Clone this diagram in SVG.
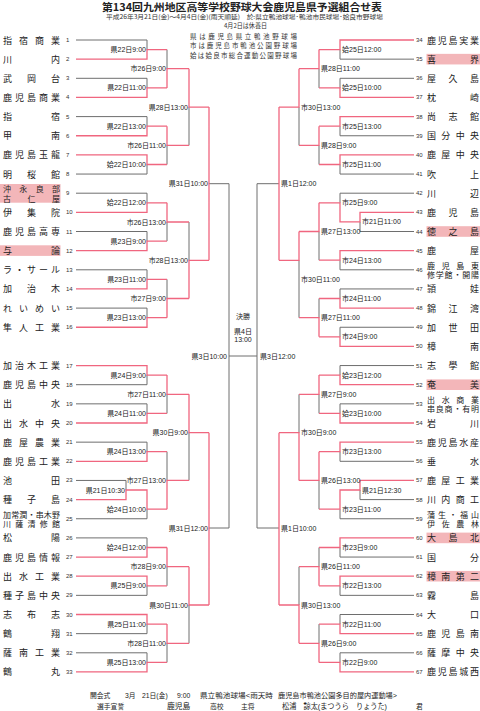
<svg xmlns="http://www.w3.org/2000/svg" width="480" height="711" viewBox="0 0 480 711">
<style>
text{font-family:"Liberation Sans","Noto Sans CJK JP",sans-serif;dominant-baseline:central;fill:#222}
.n{font-family:"Noto Sans CJK JP",sans-serif;font-size:9px}
.n2{font-family:"Noto Sans CJK JP",sans-serif;font-size:8px}
.num{font-size:6px;fill:#333}
.lb{font-size:7px;fill:#333}
.e{text-anchor:end}
.m{text-anchor:middle}
.hd{font-family:"Noto Sans CJK JP",sans-serif;font-size:6.5px;fill:#333}
.g{stroke:#6e6e6e;fill:none;stroke-width:1}
.r{stroke:#f0667f;fill:none;stroke-width:1.3}
.pk{fill:#f3b6b9}
</style>
<rect width="480" height="711" fill="#fff"/>
<g id="header">
<text x="242" y="10.6" class="m" style="font-family:'Noto Sans CJK JP',sans-serif;font-size:10.3px;font-weight:bold;dominant-baseline:alphabetic" textLength="280" lengthAdjust="spacingAndGlyphs">第134回九州地区高等学校野球大会鹿児島県予選組合せ表</text>
<text x="244.5" y="16.6" class="hd m" style="font-size:6.2px" textLength="277" lengthAdjust="spacingAndGlyphs">平成26年3月21日(金)～4月4日(金)(雨天順延)　於:県立鴨池球場･鴨池市民球場･姶良市野球場</text>
<text x="245.5" y="25.2" class="hd m" textLength="43" lengthAdjust="spacingAndGlyphs">4月2日は休養日</text>
<text x="190" y="35.5" class="hd" textLength="107" lengthAdjust="spacing">県は鹿児島県立鴨池野球場</text>
<text x="190" y="45" class="hd" textLength="107" lengthAdjust="spacing">市は鹿児島市鴨池公園野球場</text>
<text x="190" y="54.7" class="hd" textLength="107" lengthAdjust="spacing">姶は姶良市総合運動公園野球場</text>
</g>
<g id="connectors">
<g class="g">
<path d="M76 40H147V49.6M76 78.3H147V87.9M76 116.6H147V126.2M76 174.05H147V164.5M76 193.2H147V202.8M76 231.5H147V241.1M76 269.8H147V279.4M76 308.1H147V317.7"/>
<path d="M76 384.7H147V375.1M76 403.85H147V413.4M76 442.15H147V451.7M76 480.45H126V490M76 518.75H147V509.2M76 537.9H147V547.5M76 595.35H147V585.8M76 633.65H147V624.1M76 652.8H147V662.4"/>
<path d="M167 49.6V68.7M167 164.5V145.4M167 241.1V222M167 279.4V298.5M189 145.4V107.1M189 222V260.3M209 183.7H229"/>
<path d="M167 413.4V394.3M167 451.7V480.4M167 585.8V566.7M167 662.4V643.3M189 480.4V432.7M189 643.3V605M209 528H229"/>
<path d="M229 183.7V528M229 356H257M257 183.7V528"/>
<path d="M414 59.15H340V49.6M414 78.3H340V87.9M414 135.75H340V126.2M414 174.05H340V164.5M414 193.2H340V202.8M414 231.5H360V221.9M414 269.8H340V260.2M414 288.95H340V298.5M414 327.25H340V336.8"/>
<path d="M414 365.55H340V375.1M414 403.85H340V413.4M414 461.3H340V451.7M414 499.6H360V490M414 518.75H340V509.2M414 557.05H340V547.5M414 595.35H340V585.8M414 614.5H340V624.1M414 652.8H340V662.4"/>
<path d="M319 87.9V68.7M319 164.5V145.4M319 260.2V231.5M319 298.5V317.7M319 413.4V394.3M319 509.2V480.4M319 547.5V566.7M319 624.1V643.3"/>
<path d="M299 145.4V107.1M299 317.7V260.3M299 394.3V432.7M299 566.7V605M279 183.7H257M279 528H257"/>
</g>
<g class="r">
<path d="M76 59.15H147V49.6H167M76 97.45H147V87.9H167M76 135.75H147V126.2H167M76 154.9H147V164.5H167M76 212.35H147V202.8H167M76 250.65H147V241.1H167M76 288.95H147V279.4H167M76 327.25H147V317.7H167"/>
<path d="M76 365.55H147V375.1H167M76 423H147V413.4H167M76 461.3H147V451.7H167M76 499.6H126V490H147V509.2H167M76 557.05H147V547.5H167M76 576.2H147V585.8H167M76 614.5H147V624.1H167M76 671.95H147V662.4H167"/>
<path d="M167 87.9V68.7H189M167 126.2V145.4H189M167 202.8V222H189M167 317.7V298.5H189M189 68.7V107.1H209M189 298.5V260.3H209M209 107.1V260.3"/>
<path d="M167 375.1V394.3H189M167 509.2V480.4H189M167 547.5V566.7H189M167 624.1V643.3H189M189 394.3V432.7H209M189 566.7V605H209M209 432.7V605"/>
<path d="M414 40H340V49.6H319M414 97.45H340V87.9H319M414 116.6H340V126.2H319M414 154.9H340V164.5H319M414 212.35H360V221.9H340V202.8H319M414 250.65H340V260.2H319M414 308.1H340V298.5H319M414 346.4H340V336.8H319"/>
<path d="M414 384.7H340V375.1H319M414 423H340V413.4H319M414 442.15H340V451.7H319M414 480.45H360V490H340V509.2H319M414 537.9H340V547.5H319M414 576.2H340V585.8H319M414 633.65H340V624.1H319M414 671.95H340V662.4H319"/>
<path d="M319 49.6V68.7H299M319 126.2V145.4H299M319 202.8V231.5H299M319 336.8V317.7H299M319 375.1V394.3H299M319 451.7V480.4H299M319 585.8V566.7H299M319 662.4V643.3H299"/>
<path d="M299 68.7V107.1H279M299 231.5V260.3H279M299 480.4V432.7H279M299 643.3V605H279M279 107.1V260.3M279 432.7V605"/>
</g>
</g>
<g id="labels">
<g class="lb e">
<text x="146" y="49.6">県22日9:00</text>
<text x="146" y="87.9">県22日11:00</text>
<text x="146" y="126.2">県22日13:00</text>
<text x="146" y="164.5">姶22日10:00</text>
<text x="146" y="202.8">姶22日12:00</text>
<text x="146" y="241.1">県23日9:00</text>
<text x="146" y="279.4">県23日11:00</text>
<text x="146" y="317.7">県23日13:00</text>
<text x="146" y="375.1">県24日9:00</text>
<text x="146" y="413.4">県24日11:00</text>
<text x="146" y="451.7">県24日13:00</text>
<text x="125" y="490">県21日10:30</text>
<text x="146" y="509.2">姶24日10:00</text>
<text x="146" y="547.5">姶24日12:00</text>
<text x="146" y="585.8">県25日9:00</text>
<text x="146" y="624.1">県25日11:00</text>
<text x="146" y="662.4">県25日13:00</text>
<text x="166" y="68.7">市26日9:00</text>
<text x="166" y="145.4">市26日11:00</text>
<text x="166" y="222">市26日13:00</text>
<text x="166" y="298.5">市27日9:00</text>
<text x="166" y="394.3">市27日11:00</text>
<text x="166" y="480.4">市27日13:00</text>
<text x="166" y="566.7">市28日9:00</text>
<text x="166" y="643.3">市28日11:00</text>
<text x="188" y="107.1">県28日13:00</text>
<text x="188" y="260.3">市28日13:00</text>
<text x="188" y="432.7">県30日9:00</text>
<text x="188" y="605">県30日11:00</text>
<text x="208" y="183.7">県31日10:00</text>
<text x="208" y="528">県31日12:00</text>
<text x="227" y="356">県3日10:00</text>
</g>
<g class="lb">
<text x="342" y="49.6">姶25日12:00</text>
<text x="342" y="87.9">姶25日10:00</text>
<text x="342" y="126.2">市25日13:00</text>
<text x="342" y="164.5">市25日11:00</text>
<text x="342" y="202.8">市25日9:00</text>
<text x="362" y="221.9">市21日11:00</text>
<text x="342" y="260.2">市24日13:00</text>
<text x="342" y="298.5">市24日11:00</text>
<text x="342" y="336.8">市24日9:00</text>
<text x="342" y="375.1">姶23日12:00</text>
<text x="342" y="413.4">姶23日10:00</text>
<text x="342" y="451.7">市23日13:00</text>
<text x="362" y="490">県21日12:30</text>
<text x="342" y="509.2">市23日11:00</text>
<text x="342" y="547.5">市23日9:00</text>
<text x="342" y="585.8">市22日13:00</text>
<text x="342" y="624.1">市22日11:00</text>
<text x="342" y="662.4">市22日9:00</text>
<text x="321" y="68.7">県28日11:00</text>
<text x="321" y="145.4">県28日9:00</text>
<text x="321" y="231.5">県27日13:00</text>
<text x="321" y="317.7">県27日11:00</text>
<text x="321" y="394.3">県27日9:00</text>
<text x="321" y="480.4">県26日13:00</text>
<text x="321" y="566.7">県26日11:00</text>
<text x="321" y="643.3">県26日9:00</text>
<text x="301" y="107.1">市30日13:00</text>
<text x="301" y="279">市30日11:00</text>
<text x="301" y="432.7">市30日9:00</text>
<text x="301" y="605">県30日13:00</text>
<text x="281" y="183.7">県1日12:00</text>
<text x="281" y="528">県1日10:00</text>
<text x="260" y="356">県3日12:00</text>
</g>
</g>
<g id="final" class="lb m">
<text x="243" y="316">決勝</text>
<text x="243" y="331.7">県4日</text>
<text x="243" y="339.5">13:00</text>
</g>
<g id="teams-left">
<rect class="pk" x="0" y="184" width="60.5" height="18.7"/>
<rect class="pk" x="0" y="245.3" width="60.5" height="10.6"/>
<g id="t1"><text class="n" x="3" y="40" textLength="57" lengthAdjust="spacing">指宿商業</text><text class="num" x="66" y="40">1</text></g>
<g id="t2"><text class="n" x="3" y="59.15" textLength="57" lengthAdjust="spacing">川内</text><text class="num" x="66" y="59.15">2</text></g>
<g id="t3"><text class="n" x="3" y="78.3" textLength="57" lengthAdjust="spacing">武岡台</text><text class="num" x="66" y="78.3">3</text></g>
<g id="t4"><text class="n" x="3" y="97.45" textLength="57" lengthAdjust="spacing">鹿児島商業</text><text class="num" x="66" y="97.45">4</text></g>
<g id="t5"><text class="n" x="3" y="116.6" textLength="57" lengthAdjust="spacing">指宿</text><text class="num" x="66" y="116.6">5</text></g>
<g id="t6"><text class="n" x="3" y="135.75" textLength="57" lengthAdjust="spacing">甲南</text><text class="num" x="66" y="135.75">6</text></g>
<g id="t7"><text class="n" x="3" y="154.9" textLength="57" lengthAdjust="spacing">鹿児島玉龍</text><text class="num" x="66" y="154.9">7</text></g>
<g id="t8"><text class="n" x="3" y="174.05" textLength="57" lengthAdjust="spacing">明桜館</text><text class="num" x="66" y="174.05">8</text></g>
<g id="t9"><text class="n2" x="3" y="188.5" textLength="57" lengthAdjust="spacing">沖永良部</text><text class="n2" x="3" y="198.2" textLength="57" lengthAdjust="spacing">古仁屋</text><text class="num" x="66" y="193.2">9</text></g>
<g id="t10"><text class="n" x="3" y="212.35" textLength="57" lengthAdjust="spacing">伊集院</text><text class="num" x="66" y="212.35">10</text></g>
<g id="t11"><text class="n" x="3" y="231.5" textLength="57" lengthAdjust="spacing">鹿児島高専</text><text class="num" x="66" y="231.5">11</text></g>
<g id="t12"><text class="n" x="3" y="250.65" textLength="57" lengthAdjust="spacing">与論</text><text class="num" x="66" y="250.65">12</text></g>
<g id="t13"><text class="n" x="3" y="269.8" textLength="57" lengthAdjust="spacing">ラ・サール</text><text class="num" x="66" y="269.8">13</text></g>
<g id="t14"><text class="n" x="3" y="288.95" textLength="57" lengthAdjust="spacing">加治木</text><text class="num" x="66" y="288.95">14</text></g>
<g id="t15"><text class="n" x="3" y="308.1" textLength="57" lengthAdjust="spacing">れいめい</text><text class="num" x="66" y="308.1">15</text></g>
<g id="t16"><text class="n" x="3" y="327.25" textLength="57" lengthAdjust="spacing">隼人工業</text><text class="num" x="66" y="327.25">16</text></g>
<g id="t17"><text class="n" x="3" y="365.55" textLength="57" lengthAdjust="spacing">加治木工業</text><text class="num" x="66" y="365.55">17</text></g>
<g id="t18"><text class="n" x="3" y="384.7" textLength="57" lengthAdjust="spacing">鹿児島中央</text><text class="num" x="66" y="384.7">18</text></g>
<g id="t19"><text class="n" x="3" y="403.85" textLength="57" lengthAdjust="spacing">出水</text><text class="num" x="66" y="403.85">19</text></g>
<g id="t20"><text class="n" x="3" y="423" textLength="57" lengthAdjust="spacing">出水中央</text><text class="num" x="66" y="423">20</text></g>
<g id="t21"><text class="n" x="3" y="442.15" textLength="57" lengthAdjust="spacing">鹿屋農業</text><text class="num" x="66" y="442.15">21</text></g>
<g id="t22"><text class="n" x="3" y="461.3" textLength="57" lengthAdjust="spacing">鹿児島工業</text><text class="num" x="66" y="461.3">22</text></g>
<g id="t23"><text class="n" x="3" y="480.45" textLength="57" lengthAdjust="spacing">池田</text><text class="num" x="66" y="480.45">23</text></g>
<g id="t24"><text class="n" x="3" y="499.6" textLength="57" lengthAdjust="spacing">種子島</text><text class="num" x="66" y="499.6">24</text></g>
<g id="t25"><text class="n2" x="3" y="514" textLength="57" lengthAdjust="spacing">加常潤・串木野</text><text class="n2" x="3" y="523.6" textLength="57" lengthAdjust="spacing">川薩清修館</text><text class="num" x="66" y="518.75">25</text></g>
<g id="t26"><text class="n" x="3" y="537.9" textLength="57" lengthAdjust="spacing">松陽</text><text class="num" x="66" y="537.9">26</text></g>
<g id="t27"><text class="n" x="3" y="557.05" textLength="57" lengthAdjust="spacing">鹿児島情報</text><text class="num" x="66" y="557.05">27</text></g>
<g id="t28"><text class="n" x="3" y="576.2" textLength="57" lengthAdjust="spacing">出水工業</text><text class="num" x="66" y="576.2">28</text></g>
<g id="t29"><text class="n" x="3" y="595.35" textLength="57" lengthAdjust="spacing">種子島中央</text><text class="num" x="66" y="595.35">29</text></g>
<g id="t30"><text class="n" x="3" y="614.5" textLength="57" lengthAdjust="spacing">志布志</text><text class="num" x="66" y="614.5">30</text></g>
<g id="t31"><text class="n" x="3" y="633.65" textLength="57" lengthAdjust="spacing">鶴翔</text><text class="num" x="66" y="633.65">31</text></g>
<g id="t32"><text class="n" x="3" y="652.8" textLength="57" lengthAdjust="spacing">薩南工業</text><text class="num" x="66" y="652.8">32</text></g>
<g id="t33"><text class="n" x="3" y="671.95" textLength="57" lengthAdjust="spacing">鶴丸</text><text class="num" x="66" y="671.95">33</text></g>
</g>
<g id="teams-right">
<rect class="pk" x="426.5" y="53.85" width="53.5" height="10.6"/>
<rect class="pk" x="426.5" y="226.2" width="53.5" height="10.6"/>
<rect class="pk" x="426.5" y="379.4" width="53.5" height="10.6"/>
<rect class="pk" x="426.5" y="532.6" width="53.5" height="10.6"/>
<rect class="pk" x="426.5" y="570.9" width="53.5" height="10.6"/>
<g id="t34"><text class="num" x="416" y="40">34</text><text class="n" x="427" y="40" textLength="52" lengthAdjust="spacing">鹿児島実業</text></g>
<g id="t35"><text class="num" x="416" y="59.15">35</text><text class="n" x="427" y="59.15" textLength="52" lengthAdjust="spacing">喜界</text></g>
<g id="t36"><text class="num" x="416" y="78.3">36</text><text class="n" x="427" y="78.3" textLength="52" lengthAdjust="spacing">屋久島</text></g>
<g id="t37"><text class="num" x="416" y="97.45">37</text><text class="n" x="427" y="97.45" textLength="52" lengthAdjust="spacing">枕崎</text></g>
<g id="t38"><text class="num" x="416" y="116.6">38</text><text class="n" x="427" y="116.6" textLength="52" lengthAdjust="spacing">尚志館</text></g>
<g id="t39"><text class="num" x="416" y="135.75">39</text><text class="n" x="427" y="135.75" textLength="52" lengthAdjust="spacing">国分中央</text></g>
<g id="t40"><text class="num" x="416" y="154.9">40</text><text class="n" x="427" y="154.9" textLength="52" lengthAdjust="spacing">鹿屋中央</text></g>
<g id="t41"><text class="num" x="416" y="174.05">41</text><text class="n" x="427" y="174.05" textLength="52" lengthAdjust="spacing">吹上</text></g>
<g id="t42"><text class="num" x="416" y="193.2">42</text><text class="n" x="427" y="193.2" textLength="52" lengthAdjust="spacing">川辺</text></g>
<g id="t43"><text class="num" x="416" y="212.35">43</text><text class="n" x="427" y="212.35" textLength="52" lengthAdjust="spacing">鹿児島</text></g>
<g id="t44"><text class="num" x="416" y="231.5">44</text><text class="n" x="427" y="231.5" textLength="52" lengthAdjust="spacing">徳之島</text></g>
<g id="t45"><text class="num" x="416" y="250.65">45</text><text class="n" x="427" y="250.65" textLength="52" lengthAdjust="spacing">鹿屋</text></g>
<g id="t46"><text class="num" x="416" y="269.8">46</text><text class="n2" x="427" y="265.1" textLength="52" lengthAdjust="spacing">鹿児島東</text><text class="n2" x="427" y="274.5" textLength="52" lengthAdjust="spacing">修学館・開陽</text></g>
<g id="t47"><text class="num" x="416" y="288.95">47</text><text class="n" x="427" y="288.95" textLength="52" lengthAdjust="spacing">頴娃</text></g>
<g id="t48"><text class="num" x="416" y="308.1">48</text><text class="n" x="427" y="308.1" textLength="52" lengthAdjust="spacing">錦江湾</text></g>
<g id="t49"><text class="num" x="416" y="327.25">49</text><text class="n" x="427" y="327.25" textLength="52" lengthAdjust="spacing">加世田</text></g>
<g id="t50"><text class="num" x="416" y="346.4">50</text><text class="n" x="427" y="346.4" textLength="52" lengthAdjust="spacing">樟南</text></g>
<g id="t51"><text class="num" x="416" y="365.55">51</text><text class="n" x="427" y="365.55" textLength="52" lengthAdjust="spacing">志學館</text></g>
<g id="t52"><text class="num" x="416" y="384.7">52</text><text class="n" x="427" y="384.7" textLength="52" lengthAdjust="spacing">奄美</text></g>
<g id="t53"><text class="num" x="416" y="403.85">53</text><text class="n2" x="427" y="399.1" textLength="52" lengthAdjust="spacing">出水商業</text><text class="n2" x="427" y="408.6" textLength="52" lengthAdjust="spacing">串良商・有明</text></g>
<g id="t54"><text class="num" x="416" y="423">54</text><text class="n" x="427" y="423" textLength="52" lengthAdjust="spacing">岩川</text></g>
<g id="t55"><text class="num" x="416" y="442.15">55</text><text class="n" x="427" y="442.15" textLength="52" lengthAdjust="spacing">鹿児島水産</text></g>
<g id="t56"><text class="num" x="416" y="461.3">56</text><text class="n" x="427" y="461.3" textLength="52" lengthAdjust="spacing">垂水</text></g>
<g id="t57"><text class="num" x="416" y="480.45">57</text><text class="n" x="427" y="480.45" textLength="52" lengthAdjust="spacing">鹿屋工業</text></g>
<g id="t58"><text class="num" x="416" y="499.6">58</text><text class="n" x="427" y="499.6" textLength="52" lengthAdjust="spacing">川内商工</text></g>
<g id="t59"><text class="num" x="416" y="518.75">59</text><text class="n2" x="427" y="514.1" textLength="52" lengthAdjust="spacing">蒲生・福山</text><text class="n2" x="427" y="523.5" textLength="52" lengthAdjust="spacing">伊佐農林</text></g>
<g id="t60"><text class="num" x="416" y="537.9">60</text><text class="n" x="427" y="537.9" textLength="52" lengthAdjust="spacing">大島北</text></g>
<g id="t61"><text class="num" x="416" y="557.05">61</text><text class="n" x="427" y="557.05" textLength="52" lengthAdjust="spacing">国分</text></g>
<g id="t62"><text class="num" x="416" y="576.2">62</text><text class="n" x="427" y="576.2" textLength="52" lengthAdjust="spacing">樟南第二</text></g>
<g id="t63"><text class="num" x="416" y="595.35">63</text><text class="n" x="427" y="595.35" textLength="52" lengthAdjust="spacing">霧島</text></g>
<g id="t64"><text class="num" x="416" y="614.5">64</text><text class="n" x="427" y="614.5" textLength="52" lengthAdjust="spacing">大口</text></g>
<g id="t65"><text class="num" x="416" y="633.65">65</text><text class="n" x="427" y="633.65" textLength="52" lengthAdjust="spacing">鹿児島南</text></g>
<g id="t66"><text class="num" x="416" y="652.8">66</text><text class="n" x="427" y="652.8" textLength="52" lengthAdjust="spacing">薩摩中央</text></g>
<g id="t67"><text class="num" x="416" y="671.95">67</text><text class="n" x="427" y="671.95" textLength="52" lengthAdjust="spacing">鹿児島城西</text></g>
</g>
<g id="footer" class="hd" style="font-size:6.8px">
<text x="90" y="695.7">開会式</text>
<text x="125" y="695.7">3月</text>
<text x="142" y="695.7">21日(金)</text>
<text x="177" y="695.7">9:00</text>
<text x="200" y="695.7" textLength="73" lengthAdjust="spacingAndGlyphs">県立鴨池球場&lt;雨天時</text>
<text x="278" y="695.7" textLength="119" lengthAdjust="spacingAndGlyphs">鹿児島市鴨池公園多目的屋内運動場&gt;</text>
<text x="97" y="706.7">選手宣誓</text>
<text x="167" y="706.7" style="font-size:7.8px">鹿児島</text>
<text x="210" y="706.7">高校</text>
<text x="241" y="706.7">主将</text>
<text x="282" y="706.7" style="font-size:7.6px" textLength="105" lengthAdjust="spacingAndGlyphs">松浦　諒太(まつうら　りょうた)</text>
<text x="416" y="706.7">君</text>
</g>
</svg>
